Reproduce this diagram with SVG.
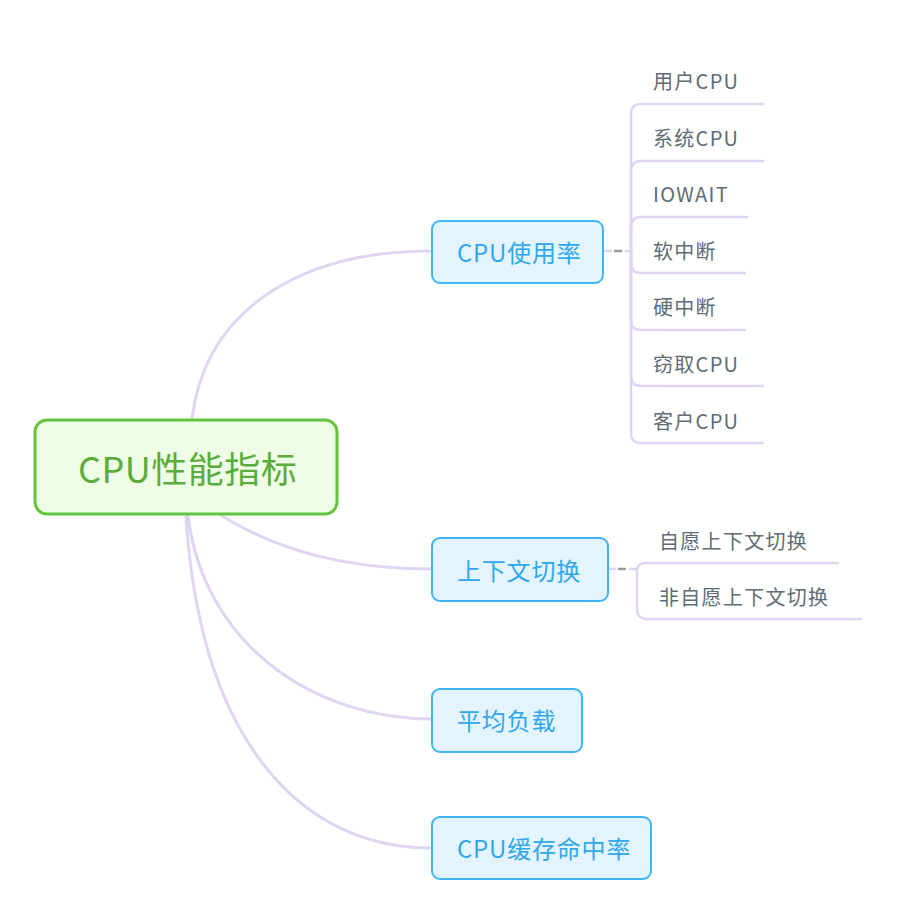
<svg xmlns="http://www.w3.org/2000/svg" width="910" height="913" viewBox="0 0 910 913">
<style>
.c{fill:none;stroke:#e1d3f2;stroke-width:3;stroke-linecap:round}
.sub{fill:none;stroke:#e1d3f2;stroke-width:2.5}
.box{fill:#e4f4fe;stroke:#3fb5f5;stroke-width:2}
.bt{font-family:"Noto Sans CJK SC","Noto Sans",sans-serif;font-size:24px;letter-spacing:0.8px;fill:#2fa8ef;dominant-baseline:central}
.lt{font-family:"Noto Sans CJK SC","Noto Sans",sans-serif;font-size:20px;letter-spacing:1.3px;fill:#5e6c75;dominant-baseline:central}
.dash{stroke:#9a9a9a;stroke-width:2.5}
</style>
<rect width="910" height="913" fill="#ffffff"/>
<g id="connectors">
<path class="c" d="M192,419 C205,310 300,251 431,251"/>
<path class="c" d="M222,516 C280,552 350,569 432,569"/>
<path class="c" d="M188,516 C205,650 320,719 431,719"/>
<path class="c" d="M186,516 C200,740 300,848 431,848"/>
<line x1="604" y1="251" x2="612" y2="251" stroke="#e1d3f2" stroke-width="2.5"/>
<line class="dash" x1="614" y1="251" x2="622" y2="251"/>
<line x1="625" y1="251" x2="631" y2="251" stroke="#e1d3f2" stroke-width="2.5"/>
<line x1="609" y1="569" x2="616" y2="569" stroke="#e1d3f2" stroke-width="2.5"/>
<line class="dash" x1="618" y1="569" x2="626" y2="569"/>
<line x1="629" y1="569" x2="637" y2="569" stroke="#e1d3f2" stroke-width="2.5"/>
<path class="sub" d="M631,251 L631,114 Q631,104 641,104 L764,104"/>
<path class="sub" d="M631,251 L631,171 Q631,161 641,161 L764,161"/>
<path class="sub" d="M631,251 L631,227 Q631,217 641,217 L748,217"/>
<path class="sub" d="M631,251 L631,263 Q631,273 641,273 L746,273"/>
<path class="sub" d="M631,251 L631,320 Q631,330 641,330 L746,330"/>
<path class="sub" d="M631,251 L631,376 Q631,386 641,386 L764,386"/>
<path class="sub" d="M631,251 L631,433 Q631,443 641,443 L764,443"/>
<path class="sub" d="M637,569 L637,570 Q637,563 647,563 L839,563"/>
<path class="sub" d="M637,569 L637,609 Q637,619 647,619 L862,619"/>
</g>
<g id="root">
<rect x="35" y="420" width="302" height="94" rx="12" fill="#effde7" stroke="#62c43c" stroke-width="3"/>
<text x="78" y="467" font-family="Noto Sans CJK SC,Noto Sans,sans-serif" font-size="36" letter-spacing="0.5" fill="#5aad3a" dominant-baseline="central">CPU性能指标</text>
</g>
<g id="n-usage">
<rect class="box" x="432" y="221" width="171" height="62" rx="8"/>
<text class="bt" x="457" y="251">CPU使用率</text>
</g>
<g id="n-switch">
<rect class="box" x="432" y="538" width="176" height="63" rx="8"/>
<text class="bt" x="457" y="569">上下文切换</text>
</g>
<g id="n-load">
<rect class="box" x="432" y="689" width="150" height="63" rx="8"/>
<text class="bt" x="457" y="719">平均负载</text>
</g>
<g id="n-cache">
<rect class="box" x="432" y="817" width="219" height="62" rx="8"/>
<text class="bt" x="457" y="847">CPU缓存命中率</text>
</g>
<g id="l-user"><text class="lt" x="653" y="80">用户CPU</text></g>
<g id="l-sys"><text class="lt" x="653" y="137">系统CPU</text></g>
<g id="l-iowait"><text class="lt" x="653" y="193">IOWAIT</text></g>
<g id="l-softirq"><text class="lt" x="653" y="250">软中断</text></g>
<g id="l-hardirq"><text class="lt" x="653" y="306">硬中断</text></g>
<g id="l-steal"><text class="lt" x="653" y="363">窃取CPU</text></g>
<g id="l-guest"><text class="lt" x="653" y="420">客户CPU</text></g>
<g id="l-vol"><text class="lt" x="659" y="540">自愿上下文切换</text></g>
<g id="l-invol"><text class="lt" x="659" y="596">非自愿上下文切换</text></g>
</svg>
